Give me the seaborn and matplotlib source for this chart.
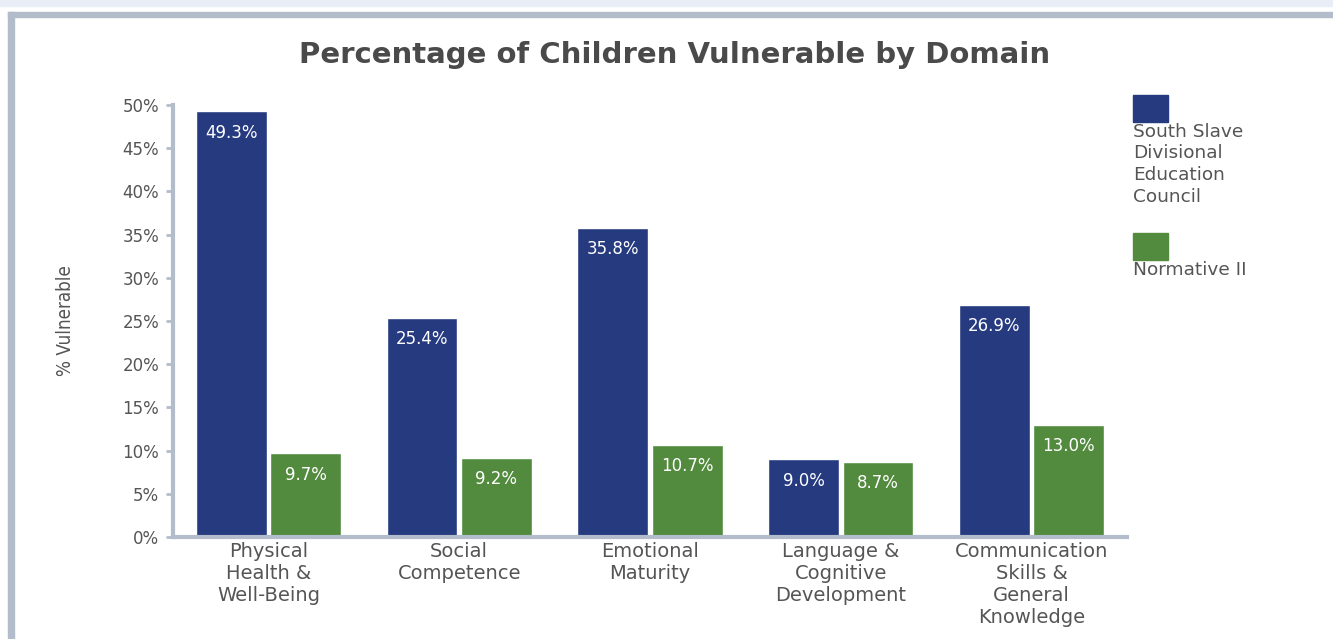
import pandas as pd
import matplotlib.pyplot as plt
import seaborn as sns
from matplotlib.patches import Rectangle

# Data
domains = ['Physical\nHealth &\nWell-Being', 'Social\nCompetence', 'Emotional\nMaturity',
           'Language &\nCognitive\nDevelopment', 'Communication\nSkills &\nGeneral\nKnowledge']
south_slave = [49.3, 25.4, 35.8, 9.0, 26.9]
normative = [9.7, 9.2, 10.7, 8.7, 13.0]
series = ['South Slave\nDivisional\nEducation\nCouncil', 'Normative II']
colors = ['#263a80', '#528a3e']
yticks = [0, 5, 10, 15, 20, 25, 30, 35, 40, 45, 50]

df = pd.DataFrame({
    'Domain': domains * 2,
    'Series': [series[0]] * len(domains) + [series[1]] * len(domains),
    'Value': south_slave + normative,
})

sns.set_style('white')
plt.rcParams['font.family'] = ['DejaVu Sans']
grey = '#b3bccb'
txt = '#555555'

W, H = 1333, 639
fig = plt.figure(figsize=(W / 100, H / 100), dpi=100)
ax = fig.add_axes([173 / W, (H - 537) / H, (1127 - 173) / W, (537 - 105) / H])

sns.barplot(data=df, x='Domain', y='Value', hue='Series', palette=colors,
            width=0.78, gap=0.05, saturation=1, ax=ax, legend=False)

for cont in ax.containers:
    ax.bar_label(cont, labels=[f'{v:.1f}%' for v in cont.datavalues],
                 padding=-22, color='white', fontsize=12)

ax.set_ylim(0, 50)
ax.set_xlim(-0.5, len(domains) - 0.5)
ax.set_yticks(yticks)
ax.set_yticklabels([f'{t}%' for t in yticks], color=txt, fontsize=12)
ax.tick_params(axis='y', left=True, length=5, width=2, color=grey, pad=5)
ax.tick_params(axis='x', bottom=False, pad=0)
ax.set_xticks(range(len(domains)))
ax.set_xticklabels(domains, color=txt, fontsize=14, linespacing=1.2)
ax.set_xlabel('')
ax.set_ylabel('% Vulnerable', color=txt, fontsize=13.5, labelpad=34,
              fontstretch='condensed')
for s in ['top', 'right']:
    ax.spines[s].set_visible(False)
for s in ['left', 'bottom']:
    ax.spines[s].set_color(grey)
    ax.spines[s].set_linewidth(3)

fig.text(675 / W, 1 - 55 / H, 'Percentage of Children Vulnerable by Domain',
         ha='center', va='center', fontsize=21, fontweight='bold', color='#4a4a4a')

# legend: square above label
leg_y = [95, 233]
for i, name in enumerate(series):
    fig.add_artist(Rectangle((1133 / W, 1 - (leg_y[i] + 27) / H), 35 / W, 27 / H,
                             transform=fig.transFigure, color=colors[i]))
    fig.text(1133 / W, 1 - (leg_y[i] + 28) / H, name, ha='left', va='top',
             fontsize=13.3, color=txt, linespacing=1.25)

# page frame
fig.add_artist(Rectangle((0, 1 - 6 / H), 1, 6 / H, transform=fig.transFigure,
                         color='#e9eef6'))
fig.add_artist(Rectangle((8 / W, 1 - 17 / H), 1, 5 / H, transform=fig.transFigure,
                         color=grey))
fig.add_artist(Rectangle((8 / W, 0), 6 / W, 1 - 12 / H, transform=fig.transFigure,
                         color=grey))

fig.savefig('out.png', dpi=100)
